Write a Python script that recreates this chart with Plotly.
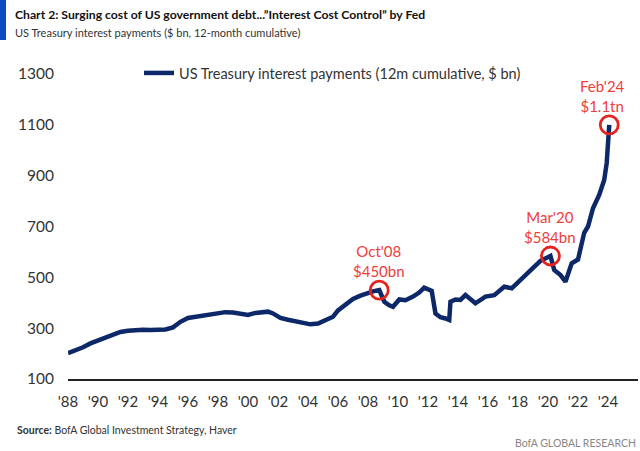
import plotly.graph_objects as go

dates = ["1988-01", "1988-07", "1989-01", "1989-07", "1990-01", "1990-07", "1991-01", "1991-07",
         "1992-01", "1992-07", "1993-01", "1993-07", "1994-01", "1994-07", "1995-01", "1995-07",
         "1996-01", "1996-07", "1997-01", "1997-07", "1998-01", "1998-07", "1999-01", "1999-07",
         "2000-01", "2000-07", "2001-01", "2001-05", "2001-09", "2002-03", "2002-09", "2003-03",
         "2003-09", "2004-03", "2004-09", "2005-03", "2005-09", "2006-01", "2006-07", "2007-01",
         "2007-07", "2008-01", "2008-05", "2008-10", "2009-02", "2009-06", "2009-09", "2010-02",
         "2010-07", "2011-01", "2011-06", "2011-10", "2012-04", "2012-07", "2012-11", "2013-03",
         "2013-06", "2013-07", "2013-11", "2014-03", "2014-07", "2015-03", "2015-11", "2016-06",
         "2017-02", "2017-08", "2018-04", "2019-01", "2019-07", "2020-03", "2020-06", "2020-11",
         "2021-03", "2021-08", "2022-01", "2022-06", "2022-09", "2023-01", "2023-06", "2023-10",
         "2023-12", "2024-02"]
values = [202, 212, 225, 240, 252, 262, 275, 285,
          290, 293, 294, 293, 293, 295, 303, 325,
          340, 345, 348, 355, 358, 363, 362, 355,
          352, 360, 362, 365, 358, 340, 333, 328,
          320, 315, 318, 330, 345, 370, 395, 415,
          428, 440, 445, 450, 404, 390, 384, 413,
          410, 424, 440, 459, 447, 358, 343, 338,
          332, 404, 413, 411, 430, 398, 424, 430,
          463, 457, 496, 535, 565, 584, 529, 509,
          483, 555, 570, 675, 700, 772, 824, 883,
          950, 1100]

hl_dates = ["2008-10", "2020-03", "2024-02"]
hl_values = [450, 584, 1100]
hl_labels = ["Oct'08<br>$450bn", "Mar'20<br>$584bn", "Feb'24<br>$1.1tn"]

y_ticks = [100, 300, 500, 700, 900, 1100, 1300]

NAVY = "#0d2868"
RED = "#e4231e"
TXTRED = "#ee3e3a"
FONT = "Lato"

# pixel helpers for paper coordinates (plot area: x 68..638, y 50..379)
PW, PH = 570, 329
def px(x):
    return (x - 68) / PW
def py(y):
    return (379 - y) / PH

fig = go.Figure()
fig.add_trace(go.Scatter(
    x=dates, y=values, mode="lines",
    name="US Treasury interest payments (12m cumulative, $ bn)",
    line=dict(color=NAVY, width=4.5),
))
fig.add_trace(go.Scatter(
    x=hl_dates, y=hl_values, mode="markers", showlegend=False,
    marker=dict(symbol="circle-open", size=18, color=RED, line=dict(width=2.8, color=RED)),
))

xshifts = [0, 0, -7]
for d, v, t, xs in zip(hl_dates, hl_values, hl_labels, xshifts):
    fig.add_annotation(x=d, y=v, text=t, showarrow=False, yanchor="bottom", yshift=8, xshift=xs,
                       font=dict(family=FONT, size=15, color=TXTRED), align="center")

# header / footer
fig.add_shape(type="rect", xref="paper", yref="paper",
              x0=px(0), x1=px(6), y0=py(40), y1=py(0),
              fillcolor="#0a4cc0", line=dict(width=0), layer="above")
fig.add_annotation(xref="paper", yref="paper", x=px(13), y=py(14), xanchor="left", yanchor="middle",
                   text="<b>Chart 2: Surging cost of US government debt...\u201dInterest Cost Control\u201d by Fed</b>",
                   showarrow=False, font=dict(family=FONT, size=12.2, color="#111"))
fig.add_annotation(xref="paper", yref="paper", x=px(13), y=py(33), xanchor="left", yanchor="middle",
                   text="US Treasury interest payments ($ bn, 12-month cumulative)",
                   showarrow=False, font=dict(family=FONT, size=11, color="#333"))
fig.add_annotation(xref="paper", yref="paper", x=px(15), y=py(430), xanchor="left", yanchor="middle",
                   text="<b>Source:</b> BofA Global Investment Strategy, Haver",
                   showarrow=False, font=dict(family=FONT, size=10.5, color="#333"))
fig.add_annotation(xref="paper", yref="paper", x=px(638), y=py(443), xanchor="right", yanchor="middle",
                   text="BofA GLOBAL RESEARCH",
                   showarrow=False, font=dict(family=FONT, size=10.5, color="#888"))

fig.update_layout(
    width=640, height=451,
    margin=dict(l=68, r=2, t=50, b=72),
    paper_bgcolor="white", plot_bgcolor="white",
    font=dict(family=FONT, color="#333"),
    showlegend=True,
    legend=dict(x=px(139), y=py(73), xanchor="left", yanchor="middle", bgcolor="rgba(0,0,0,0)",
                font=dict(family=FONT, size=14.5, color="#333")),
)
fig.update_xaxes(type="date", range=["1988-01-01", "2026-01-01"], dtick="M24", tick0="1988-01-01",
                 tickformat="'%y", showgrid=False, zeroline=False, showline=True, linecolor="#222",
                 linewidth=1.5, ticks="", ticklabelstandoff=8,
                 tickfont=dict(family=FONT, size=15, color="#333"))
fig.update_yaxes(range=[100, 100 + 329 * 1200 / 305], tickvals=y_ticks, showgrid=False, zeroline=False,
                 showline=False, ticks="", ticklabelstandoff=13,
                 tickfont=dict(family=FONT, size=15.5, color="#333"))

fig.write_html("out.html", config={"displayModeBar": False},
               post_script="document.body.style.margin='0';")
